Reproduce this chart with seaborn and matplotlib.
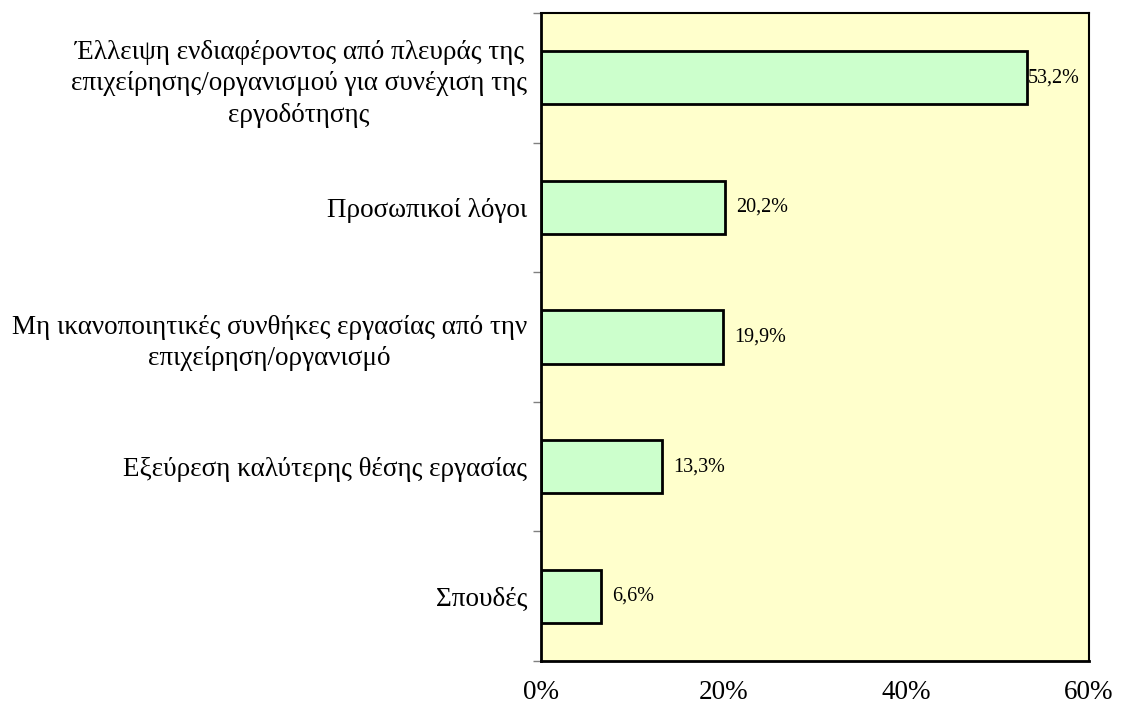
import pandas as pd
import numpy as np
import matplotlib.pyplot as plt
import seaborn as sns
from matplotlib.ticker import FixedLocator

categories = [
    "Έλλειψη ενδιαφέροντος από πλευράς της\nεπιχείρησης/οργανισμού για συνέχιση της\nεργοδότησης",
    "Προσωπικοί λόγοι",
    "Μη ικανοποιητικές συνθήκες εργασίας από την\nεπιχείρηση/οργανισμό",
    "Εξεύρεση καλύτερης θέσης εργασίας",
    "Σπουδές",
]
values = [53.2, 20.2, 19.9, 13.3, 6.6]
value_labels = ["53,2%", "20,2%", "19,9%", "13,3%", "6,6%"]
x_ticks = [0, 20, 40, 60]
x_tick_labels = ["0%", "20%", "40%", "60%"]

df = pd.DataFrame({"reason": categories, "pct": values})

sns.set_style("white")
plt.rcParams["font.family"] = ["Liberation Serif", "DejaVu Serif"]
plt.rcParams["text.color"] = "black"
plt.rcParams["xtick.color"] = "black"
plt.rcParams["ytick.color"] = "black"

fig = plt.figure(figsize=(11.21, 7.06), dpi=100)
ax = fig.add_axes([0.4826, 0.0637, 0.9714 - 0.4826, 0.9816 - 0.0637])
ax.set_facecolor("#FFFFCC")

sns.barplot(data=df, x="pct", y="reason", orient="h", color="#CCFFCC",
            saturation=1, width=0.41, edgecolor="black", linewidth=2, ax=ax)

ax.set_xlim(0, 60)
ax.set_ylim(len(categories) - 0.5, -0.5)
ax.set_xticks(x_ticks)
ax.set_xticklabels(x_tick_labels, fontsize=19.5)
ax.tick_params(axis="x", length=0, pad=14, labelcolor="black")
ax.set_yticks(range(len(categories)))
ax.set_yticklabels(categories, fontsize=19.5, multialignment="center", linespacing=1.33)
ax.tick_params(axis="y", which="major", length=0, pad=10, labelcolor="black")
ax.yaxis.set_minor_locator(FixedLocator(np.arange(-0.5, len(categories), 1)))
ax.tick_params(axis="y", which="minor", length=6, color="gray", width=1, left=True)
ax.set_xlabel("")
ax.set_ylabel("")

for side in ["left", "bottom", "top", "right"]:
    ax.spines[side].set_color("black")
    ax.spines[side].set_linewidth(1.5)
ax.spines["left"].set_linewidth(2)
ax.spines["bottom"].set_linewidth(2)

for i, (v, lab) in enumerate(zip(values, value_labels)):
    off = 1 if i == 0 else 8
    ax.annotate(lab, (v, i), xytext=(off, 0), textcoords="offset points",
                va="center", ha="left", fontsize=14.5, color="black")

plt.savefig("out.png", dpi=100)
